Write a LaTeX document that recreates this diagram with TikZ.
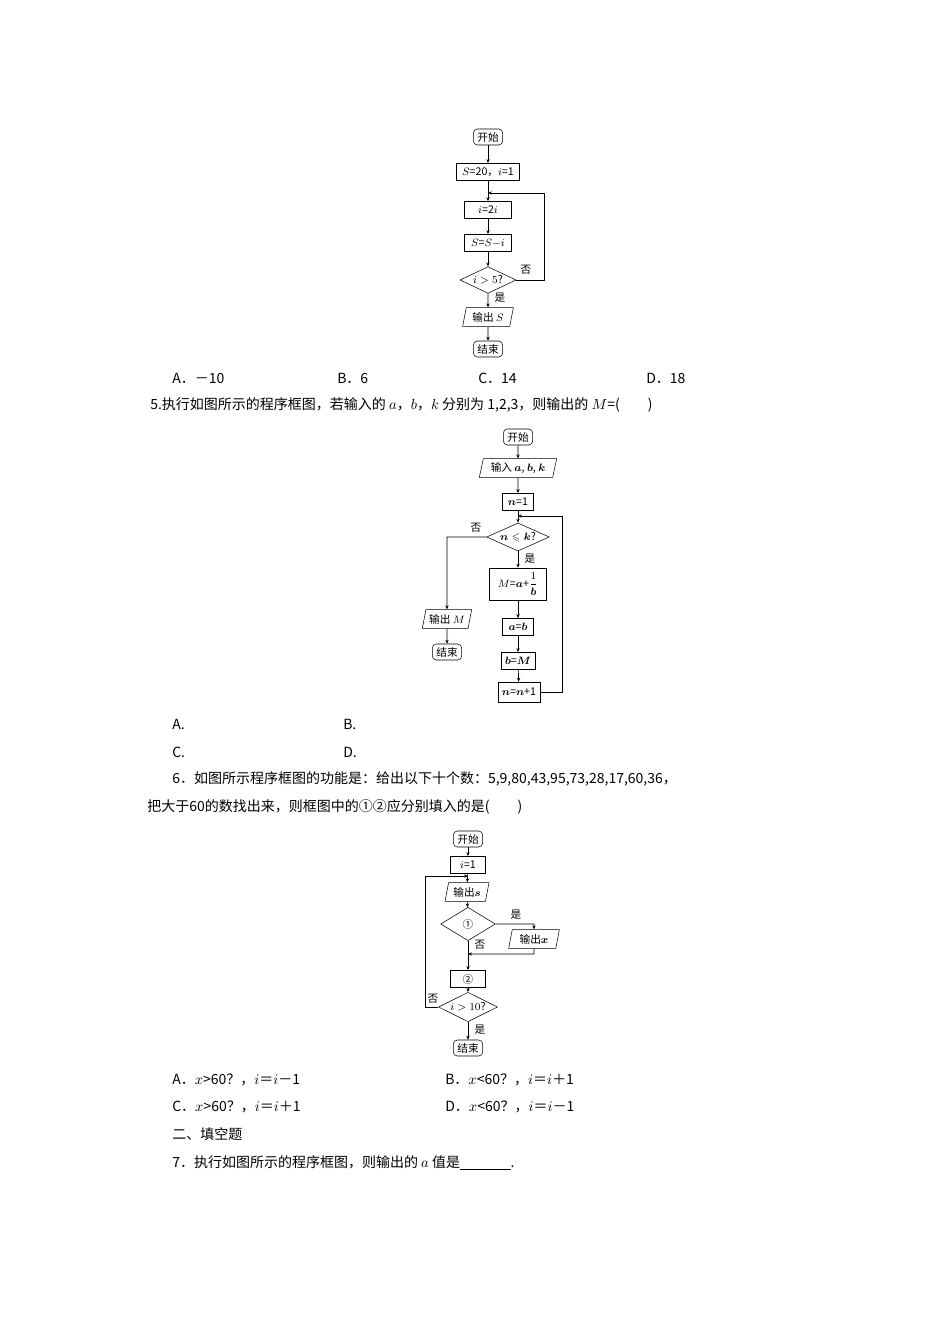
\documentclass[tikz,border=0pt]{standalone}
\usepackage{amsmath,amssymb}
\usepackage{fontspec}
\newfontfamily\cjk{Noto Sans CJK SC}
\usetikzlibrary{shapes.geometric,arrows.meta}
\begin{document}
\begin{tikzpicture}[x=0.75pt,y=-0.75pt,
  every node/.style={inner sep=0pt,font=\cjk\fontsize{8}{9}\selectfont},
  term/.style={draw,rounded corners=3pt,minimum height=12pt,inner xsep=3pt},
  proc/.style={draw,minimum height=13pt,inner xsep=3pt},
  io/.style={draw,trapezium,trapezium left angle=70,trapezium right angle=110,trapezium stretches body,minimum height=14pt,inner xsep=2pt},
  dec/.style={draw,diamond,aspect=2.2,inner sep=0.5pt},
  txt/.style={anchor=west,font=\cjk\fontsize{10.5}{12}\selectfont},
  lab/.style={font=\cjk\fontsize{8}{9}\selectfont},
  ar/.style={-{Stealth[length=3pt,width=2.5pt]},line width=0.5pt},
  ln/.style={line width=0.5pt}]
\useasboundingbox (0,0) rectangle (950,1344);
% ---------- chart 1
\node[term] (a1) at (488,137) {开始};
\node[proc,minimum width=47pt] (a2) at (488,172) {$S$=20，$i$=1};
\node[proc,minimum width=35pt] (a3) at (488,210) {$i$=2$i$};
\node[proc,minimum width=35pt] (a4) at (488,243) {$S$=$S$$-$$i$};
\node[dec,minimum width=42pt,minimum height=20pt] (a5) at (488,280) {$i>5$?};
\node[io,minimum width=38pt] (a6) at (488,317) {输出 $S$};
\node[term] (a7) at (488,349) {结束};
\coordinate (j1) at (488,193);
\draw[ar] (a1) -- (a2);
\draw[ar] (a2) -- (a3);
\draw[ar] (a3) -- (a4);
\draw[ar] (a4) -- (a5);
\draw[ar] (a5) -- (a6);
\draw[ar] (a6) -- (a7);
\draw[ar] (a5.east) -- (544,280) -- (544,193) -- (j1);
\node[lab] at (526,270) {否};
\node[lab] at (500,298) {是};
\node[txt] at (172,378) {A．－10};
\node[txt] at (337,378) {B．6};
\node[txt] at (478,378) {C．14};
\node[txt] at (646,378) {D．18};
\node[txt] at (150,405) {5.执行如图所示的程序框图，若输入的 $a$，$b$，$k$ 分别为 1,2,3，则输出的 $M$=(　　)};
% ---------- chart 2
\node[term] (b1) at (518,437) {开始};
\node[io,minimum width=58pt] (b2) at (518,468) {输入 $\boldsymbol{a}$, $\boldsymbol{b}$, $\boldsymbol{k}$};
\node[proc,minimum width=23pt] (b3) at (518,502) {$\boldsymbol{n}$=1};
\node[dec,minimum width=47pt,minimum height=21pt] (b4) at (518,537) {$\boldsymbol{n\leqslant k}$?};
\node[proc,minimum width=43pt,minimum height=24pt] (b5) at (518,584) {$M$=$\boldsymbol{a}$+$\dfrac{1}{\boldsymbol{b}}$};
\node[proc,minimum width=23pt] (b6) at (518,627) {$\boldsymbol{a}$=$\boldsymbol{b}$};
\node[proc,minimum width=23pt] (b7) at (518,661) {$\boldsymbol{b}$=$\boldsymbol{M}$};
\node[proc,minimum width=31pt,minimum height=15pt] (b8) at (519,692) {$\boldsymbol{n}$=$\boldsymbol{n}$+1};
\node[io,minimum width=37pt] (b9) at (447,619) {输出 $M$};
\node[term] (b10) at (447,652) {结束};
\coordinate (j2) at (518,516);
\draw[ar] (b1) -- (b2);
\draw[ar] (b2) -- (b3);
\draw[ar] (b3) -- (b4);
\draw[ar] (b4) -- (b5);
\draw[ar] (b5) -- (b6);
\draw[ar] (b6) -- (b7);
\draw[ar] (b7) -- (b8);
\draw[ar] (b8.east) -- (562,692) -- (562,516) -- (j2);
\draw[ar] (b4.west) -- (447,537) -- (b9);
\draw[ar] (b9) -- (b10);
\node[lab] at (476,528) {否};
\node[lab] at (530,559) {是};
\node[txt] at (172,724) {A.};
\node[txt] at (343,724) {B.};
\node[txt] at (172,752) {C.};
\node[txt] at (343,752) {D.};
\node[txt] at (172,779) {6．如图所示程序框图的功能是：给出以下十个数：5,9,80,43,95,73,28,17,60,36，};
\node[txt] at (147,807) {把大于60的数找出来，则框图中的①②应分别填入的是(　　)};
% ---------- chart 3
\node[term] (c1) at (468,839) {开始};
\node[proc,minimum width=26pt] (c2) at (468,865) {$i$=1};
\node[io,minimum width=33pt] (c3) at (467,892) {输出$\boldsymbol{s}$};
\node[dec,minimum width=41pt,minimum height=25pt] (c4) at (468,924) {①};
\node[io,minimum width=38pt] (c5) at (534,939) {输出$\boldsymbol{x}$};
\node[proc,minimum width=26pt] (c6) at (468,979) {②};
\node[dec,minimum width=41pt,minimum height=22pt] (c7) at (468,1007) {$i>10$?};
\node[term] (c8) at (468,1048) {结束};
\coordinate (j3) at (468,876);
\coordinate (j4) at (468,954);
\draw[ar] (c1) -- (c2);
\draw[ar] (c2) -- (c3);
\draw[ar] (c3) -- (c4);
\draw[ar] (c4) -- (c6);
\draw[ar] (c4.east) -- (534,924) -- (c5);
\draw[ar] (c5) -- (534,954) -- (j4);
\draw[ar] (c6) -- (c7);
\draw[ar] (c7) -- (c8);
\draw[ar] (c7.west) -- (425,1007) -- (425,876) -- (j3);
\node[lab] at (516,915) {是};
\node[lab] at (480,945) {否};
\node[lab] at (433,999) {否};
\node[lab] at (480,1030) {是};
\node[txt] at (172,1080) {A．$x$>60？，$i$＝$i$－1};
\node[txt] at (445,1080) {B．$x$<60？，$i$＝$i$＋1};
\node[txt] at (172,1107) {C．$x$>60？，$i$＝$i$＋1};
\node[txt] at (445,1107) {D．$x$<60？，$i$＝$i$－1};
\node[txt] at (172,1134) {二、填空题};
\node[txt] at (172,1163) {7．执行如图所示的程序框图，则输出的 $a$ 值是\underline{\hspace{38pt}}.};
\end{tikzpicture}
\end{document}
